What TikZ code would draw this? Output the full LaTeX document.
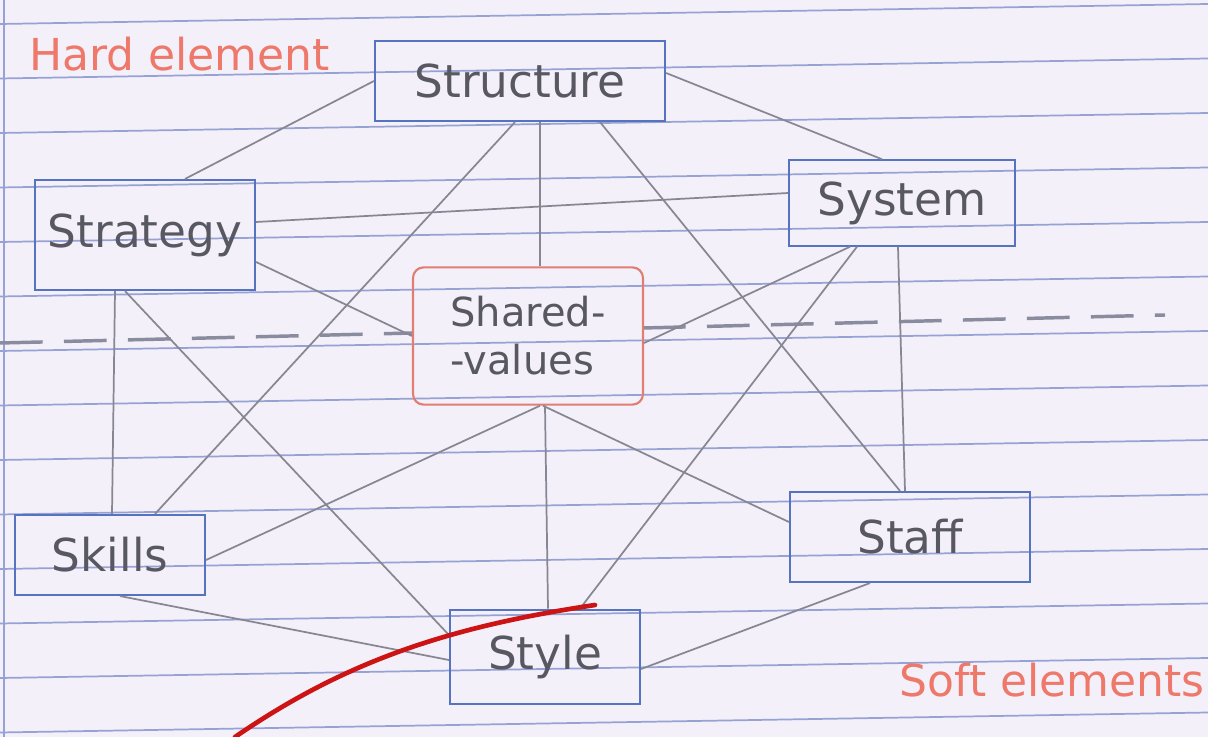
\documentclass[tikz,border=0pt]{standalone}
\usepackage{fontspec}
\setmainfont{DejaVu Sans}
\usepackage{xcolor}
\usetikzlibrary{calc}

\definecolor{paper}{RGB}{244,240,249}
\definecolor{ruled}{RGB}{150,162,212}
\definecolor{boxblue}{RGB}{85,115,190}
\definecolor{sharedred}{RGB}{225,125,115}
\definecolor{wire}{RGB}{135,135,148}
\definecolor{ink}{RGB}{88,88,98}
\definecolor{redink}{RGB}{238,120,105}
\definecolor{scribble}{RGB}{205,20,20}

\tikzset{
  elbox/.style={draw=boxblue, line width=1.6pt, text=ink, inner sep=0pt,
    font=\fontsize{34}{38}\selectfont},
  valbox/.style={elbox, draw=sharedred, rounded corners=8pt,
    font=\fontsize{30}{36}\selectfont, align=left},
  link/.style={draw=wire, line width=1.3pt},
  note/.style={text=redink, inner sep=0.75pt, font=\fontsize{33}{36}\selectfont}
}

\begin{document}
\begin{tikzpicture}[x=0.75pt,y=0.75pt,yscale=-1,xscale=1]
    \useasboundingbox (0,0) rectangle (1208,737);
    %Shape: Paper
    \fill[paper] (0,0) rectangle (1208,737);
    %Shape: Ruled lines
    \foreach \k in {0,...,13}
      \draw[ruled, line width=1.3pt] (0,{24+54.5*\k}) -- (1208,{4+54.5*\k});
    \draw[ruled, line width=1.1pt] (4,0) -- (4,737);
    %Shape: Dashed divider
    \draw[wire!85!ruled, line width=2.6pt, dash pattern=on 32pt off 16pt] (0,343) -- (413,333);
    \draw[wire!85!ruled, line width=2.6pt, dash pattern=on 32pt off 16pt] (643,328) -- (1165,315);

    % Element boxes
    \node[elbox, minimum width=217.5pt, minimum height=60pt] (structure) at (520,81) {Structure};
    \node[elbox, minimum width=165pt, minimum height=82.5pt] (strategy) at (145,235) {Strategy};
    \node[elbox, minimum width=169pt, minimum height=64pt] (system) at (902,203) {System};
    \node[valbox, minimum width=172.5pt, minimum height=103pt] (shared) at (528,336) {Shared-\\-values};
    \node[elbox, minimum width=142.5pt, minimum height=60pt] (skills) at (110,555) {Skills};
    \node[elbox, minimum width=180pt, minimum height=67.5pt] (staff) at (910,537) {Staff};
    \node[elbox, minimum width=142.5pt, minimum height=71pt] (style) at (545,657) {Style};

    % Links from Structure
    \draw[link] (structure.west) -- ($(strategy.north)+(40,0)$);
    \draw[link] ($(structure.east)+(0,-8)$) -- ($(system.north)+(-20,0)$);
    \draw[link] ($(structure.south)+(20,0)$) -- ($(shared.north)+(12,0)$);
    \draw[link] ($(structure.south)+(-5,0)$) -- ($(skills.north)+(45,0)$);
    \draw[link] ($(structure.south)+(80,0)$) -- ($(staff.north)+(-10,0)$);
    % Links from Strategy
    \draw[link] ($(strategy.east)+(0,-13)$) -- ($(system.west)+(0,-10)$);
    \draw[link] ($(strategy.east)+(0,27)$) -- (shared.west);
    \draw[link] ($(strategy.south)+(-30,0)$) -- ($(skills.north)+(2,0)$);
    \draw[link] ($(strategy.south)+(-20,0)$) -- ($(style.west)+(0,-22)$);
    % Links from System
    \draw[link] ($(system.south)+(-52,0)$) -- ($(shared.east)+(0,7)$);
    \draw[link] ($(system.south)+(-45,0)$) -- ($(style.north)+(35,0)$);
    \draw[link] ($(system.south)+(-4,0)$) -- ($(staff.north)+(-5,0)$);
    % Links from Shared values
    \draw[link] ($(shared.south)+(17,0)$) -- ($(style.north)+(3,0)$);
    \draw[link] ($(shared.south)+(12,0)$) -- ($(skills.east)+(0,5)$);
    \draw[link] ($(shared.south)+(15,0)$) -- ($(staff.west)+(0,-15)$);
    % Links to Style
    \draw[link] ($(skills.south)+(10,0)$) -- ($(style.west)+(0,3)$);
    \draw[link] ($(staff.south)+(-40,0)$) -- ($(style.east)+(0,12)$);

    %Curve Lines: red stroke
    \draw[scribble, line width=3.5pt, line cap=round] (235,737) .. controls (340,665) and (440,628) .. (595,605);

    % Text Node
    \node[note, anchor=north west] (hard) at (28,36) {Hard element};
    % Text Node
    \node[note, anchor=north east] (soft) at (1206,662) {Soft elements};
\end{tikzpicture}
\end{document}
